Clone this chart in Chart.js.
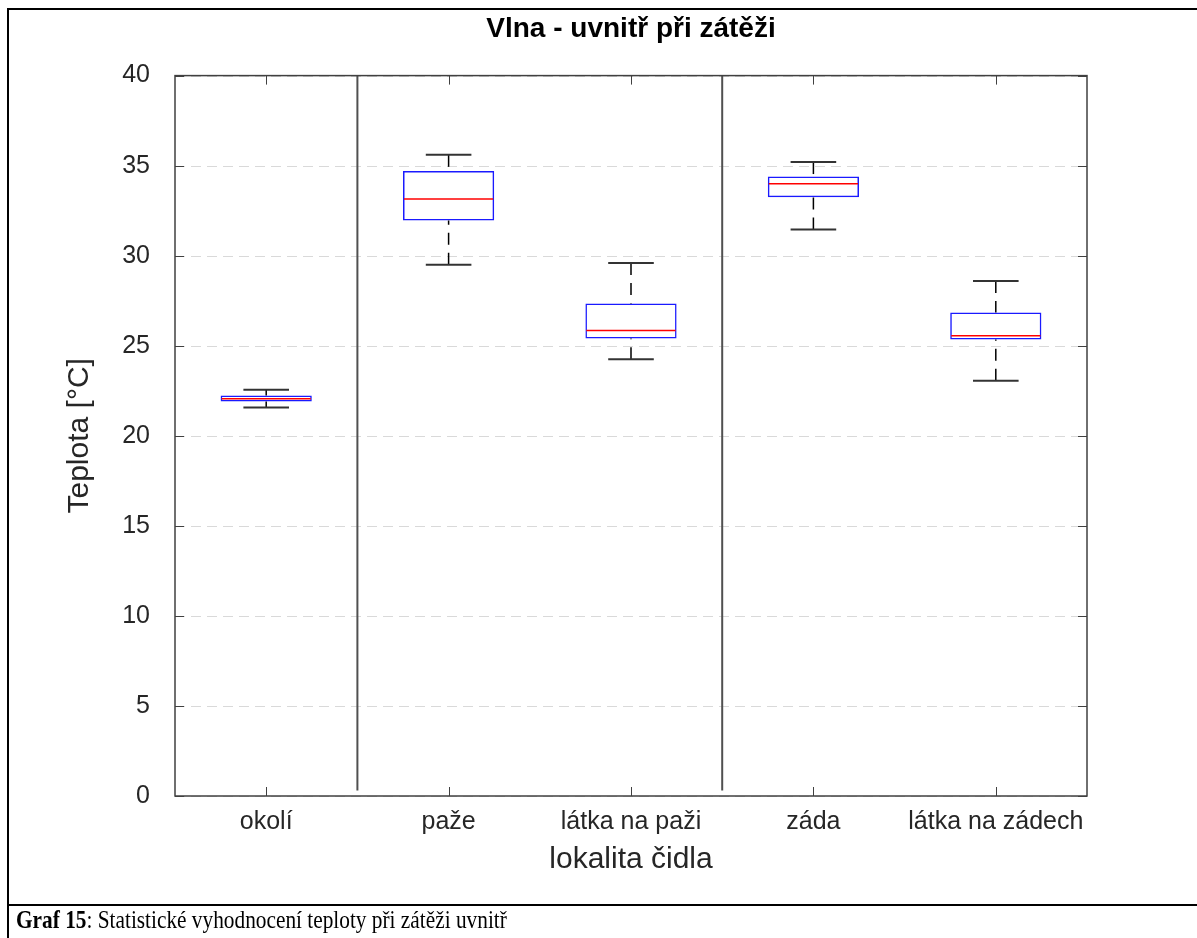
<!DOCTYPE html>
<html>
<head>
<meta charset="utf-8">
<script src="https://cdn.jsdelivr.net/npm/chart.js@4/dist/chart.umd.min.js"></script>
<style>
  body { margin: 0; background: #fff; }
  #page { position: relative; width: 1197px; height: 938px; overflow: hidden; }
  #chart-box { position: absolute; left: 0; top: 0; width: 1197px; height: 900px; }
  .rule { position: absolute; background: #000; }
  #caption {
    position: absolute; left: 16px; top: 905px;
    font-family: "Liberation Serif", "Times New Roman", serif;
    font-size: 26px; color: #000; white-space: nowrap;
    transform: scaleX(0.82); transform-origin: left top;
  }
</style>
</head>
<body>
<div id="page">
  <div id="chart-box"><canvas id="box-chart"></canvas></div>
  <div class="rule" style="left:7px; top:8px; width:1190px; height:2px;"></div>
  <div class="rule" style="left:7px; top:8px; width:2px; height:930px;"></div>
  <div class="rule" style="left:7px; top:904px; width:1190px; height:2px;"></div>
  <div id="caption"><b>Graf 15</b>: Statistické vyhodnocení teploty při zátěži uvnitř</div>
</div>

<script>
// Box plot values (°C)
const categories = ['okolí', 'paže', 'látka na paži', 'záda', 'látka na zádech'];
const whiskerLow  = [21.57, 29.5, 24.25, 31.45, 23.05];
const quart1      = [21.9, 31.95, 25.4, 33.25, 25.35];
const medians     = [22.06, 33.15, 25.85, 34.0, 25.55];
const quart3      = [22.24, 34.7, 27.35, 34.4, 26.85];
const whiskerHigh = [22.56, 35.6, 29.6, 35.2, 28.6];
const yTicks = [0, 5, 10, 15, 20, 25, 30, 35, 40];
// vertical separators drawn after these category indexes
const separatorsAfter = [0, 2];

const axisColor = '#404040';
const font = '"Liberation Sans", Arial, Helvetica, sans-serif';

const boxParts = {
  id: 'boxParts',
  beforeDatasetsDraw(chart) {
    const {ctx, chartArea: a, scales: {x, y}} = chart;
    ctx.save();
    // dashed horizontal grid
    ctx.strokeStyle = '#d9d9d9';
    ctx.lineWidth = 1;
    ctx.setLineDash([10, 6]);
    yTicks.forEach(v => {
      const py = Math.round(y.getPixelForValue(v)) + 0.5;
      ctx.beginPath();
      ctx.moveTo(a.left, py);
      ctx.lineTo(a.right, py);
      ctx.stroke();
    });
    ctx.setLineDash([]);
    // group separators
    ctx.strokeStyle = '#505050';
    ctx.lineWidth = 2;
    separatorsAfter.forEach(i => {
      const px = (x.getPixelForValue(i) + x.getPixelForValue(i + 1)) / 2;
      ctx.beginPath();
      ctx.moveTo(px, y.getPixelForValue(0.3));
      ctx.lineTo(px, y.getPixelForValue(y.max));
      ctx.stroke();
    });
    ctx.restore();
  },
  afterDatasetsDraw(chart) {
    const {ctx, chartArea: a, scales: {x, y}} = chart;
    const bars = chart.getDatasetMeta(0).data;
    ctx.save();
    categories.forEach((c, i) => {
      const px = x.getPixelForValue(i);
      const capHalf = bars[i].width / 4;
      // whiskers, dashed from the cap toward the box
      ctx.strokeStyle = '#000';
      ctx.lineWidth = 1.5;
      ctx.setLineDash([12, 8]);
      [[whiskerHigh[i], quart3[i]], [whiskerLow[i], quart1[i]]].forEach(([end, edge]) => {
        ctx.beginPath();
        ctx.moveTo(px, y.getPixelForValue(end));
        ctx.lineTo(px, y.getPixelForValue(edge));
        ctx.stroke();
      });
      ctx.setLineDash([]);
      // caps
      ctx.strokeStyle = '#333';
      ctx.lineWidth = 2;
      [whiskerHigh[i], whiskerLow[i]].forEach(v => {
        const py = y.getPixelForValue(v);
        ctx.beginPath();
        ctx.moveTo(px - capHalf, py);
        ctx.lineTo(px + capHalf, py);
        ctx.stroke();
      });
      // median
      ctx.strokeStyle = '#ff0000';
      ctx.lineWidth = 1.5;
      const pm = y.getPixelForValue(medians[i]);
      ctx.beginPath();
      ctx.moveTo(px - bars[i].width / 2 + 1, pm);
      ctx.lineTo(px + bars[i].width / 2 - 1, pm);
      ctx.stroke();
    });

    // axes box with inward ticks
    ctx.strokeStyle = axisColor;
    ctx.lineWidth = 1.5;
    ctx.strokeRect(a.left, a.top, a.right - a.left, a.bottom - a.top);
    const tick = 9;
    ctx.lineWidth = 1;
    ctx.beginPath();
    categories.forEach((c, i) => {
      const px = Math.round(x.getPixelForValue(i)) + 0.5;
      ctx.moveTo(px, a.bottom); ctx.lineTo(px, a.bottom - tick);
      ctx.moveTo(px, a.top); ctx.lineTo(px, a.top + tick);
    });
    yTicks.forEach(v => {
      const py = Math.round(y.getPixelForValue(v)) + 0.5;
      ctx.moveTo(a.left, py); ctx.lineTo(a.left + tick, py);
      ctx.moveTo(a.right, py); ctx.lineTo(a.right - tick, py);
    });
    ctx.stroke();
    ctx.restore();
  }
};

new Chart(document.getElementById('box-chart'), {
  type: 'bar',
  data: {
    labels: categories,
    datasets: [{
      data: quart1.map((v, i) => [v, quart3[i]]),
      backgroundColor: 'rgba(255,255,255,0)',
      borderColor: '#1a1aff',
      borderWidth: 1.5,
      borderSkipped: false,
      barPercentage: 0.5,
      categoryPercentage: 1
    }]
  },
  options: {
    responsive: true,
    maintainAspectRatio: false,
    animation: false,
    layout: { padding: { left: 0, right: 110, top: 0, bottom: 0 } },
    plugins: {
      legend: { display: false },
      tooltip: { enabled: false },
      title: {
        display: true,
        fullSize: false,
        text: 'Vlna - uvnitř při zátěži',
        color: '#000',
        font: { family: font, size: 28, weight: 'bold' },
        padding: { top: 12, bottom: 30 }
      }
    },
    scales: {
      x: {
        offset: true,
        grid: { display: false, drawTicks: false },
        border: { display: false },
        ticks: { color: '#262626', padding: 11, font: { family: font, size: 25 } },
        title: {
          display: true,
          text: 'lokalita čidla',
          color: '#262626',
          font: { family: font, size: 30 },
          padding: { top: 0, bottom: 22 }
        },
        afterFit(scale) { scale.height = 104; }
      },
      y: {
        min: 0,
        max: 40,
        afterBuildTicks(scale) { scale.ticks = yTicks.map(v => ({ value: v })); },
        grid: { display: false, drawTicks: false },
        border: { display: false },
        ticks: { color: '#262626', padding: 25, font: { family: font, size: 25 } },
        title: {
          display: true,
          text: 'Teplota [°C]',
          color: '#262626',
          font: { family: font, size: 30 },
          padding: { top: 62, bottom: 0 }
        },
        afterFit(scale) { scale.width = 175; }
      }
    }
  },
  plugins: [boxParts]
});
</script>
</body>
</html>
